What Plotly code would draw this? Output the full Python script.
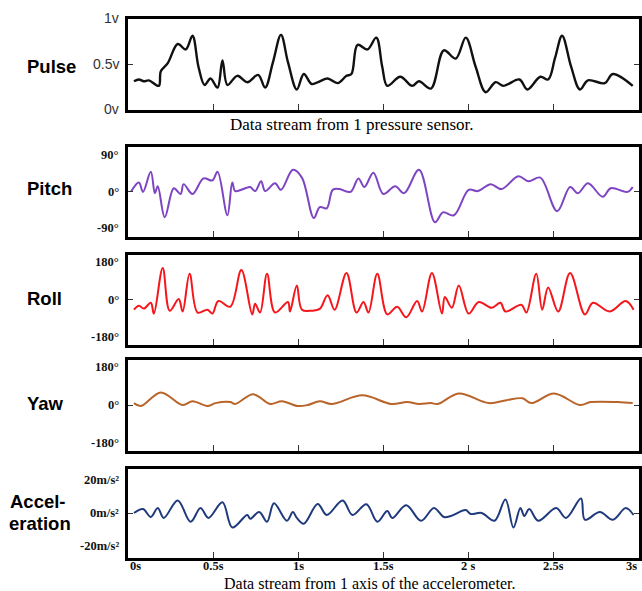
import plotly.graph_objects as go

# ---------------- data (time in s) ----------------
pulse_t = [0.035,0.064,0.093,0.123,0.181,0.193,0.234,0.292,0.339,0.379,0.414,0.450,0.485,0.526,0.555,
           0.584,0.642,0.701,0.765,0.806,0.852,0.899,0.940,0.992,1.033,1.080,1.127,1.173,1.232,1.284,1.313,
           1.349,1.407,1.459,1.494,1.524,1.600,1.670,1.710,1.780,1.856,1.926,1.985,2.043,2.102,2.160,
           2.207,2.300,2.347,2.423,2.469,2.510,2.551,2.604,2.656,2.703,2.802,2.849,2.966]
pulse_v = [0.31,0.33,0.31,0.32,0.26,0.42,0.51,0.72,0.66,0.81,0.47,0.27,0.34,0.24,0.54,
           0.27,0.37,0.30,0.38,0.24,0.52,0.82,0.52,0.22,0.39,0.28,0.31,0.34,0.29,0.37,0.39,
           0.71,0.66,0.79,0.47,0.26,0.36,0.26,0.31,0.23,0.65,0.56,0.79,0.47,0.19,0.30,
           0.26,0.33,0.22,0.36,0.33,0.57,0.81,0.47,0.22,0.32,0.29,0.39,0.26]

pitch_t = [0.018,0.064,0.088,0.134,0.158,0.175,0.216,0.269,0.309,0.327,0.379,0.444,0.496,0.526,0.584,
           0.613,0.630,0.689,0.718,0.747,0.782,0.806,0.864,0.899,0.969,1.022,1.092,1.127,1.168,1.203,
           1.243,1.308,1.354,1.389,1.442,1.500,1.570,1.623,1.710,1.804,1.851,1.915,2.002,2.055,2.131,
           2.195,2.294,2.353,2.423,2.522,2.598,2.644,2.703,2.790,2.837,2.936,2.966]
pitch_v = [0,22,-1,48,-4,13,-63,8,-6,18,-6,32,27,48,-58,
           22,1,8,11,1,25,1,20,4,53,34,-65,-38,-41,4,
           6,-1,32,11,46,-6,13,-4,53,-75,-51,-58,4,1,18,
           6,37,25,34,-48,11,-4,20,-13,8,-1,11]

roll_t = [0.035,0.064,0.093,0.134,0.152,0.204,0.245,0.298,0.321,0.362,0.409,0.467,0.496,0.531,0.601,
          0.666,0.730,0.747,0.776,0.817,0.864,0.940,0.952,0.992,1.022,1.080,1.127,1.173,1.214,1.284,
          1.343,1.384,1.413,1.465,1.524,1.582,1.635,1.699,1.728,1.786,1.845,1.862,1.903,1.944,2.002,
          2.061,2.137,2.189,2.218,2.312,2.341,2.399,2.434,2.469,2.528,2.598,2.685,2.732,2.831,2.925,2.971]
roll_v = [-49,-30,-44,-16,-68,152,-54,2,-58,124,-63,-49,-68,-7,-35,
          142,-72,-21,-63,124,-63,-12,-58,68,-49,-54,-45,21,-49,128,
          -63,-12,-63,124,-72,-35,-86,-7,-58,128,-68,12,-40,68,-68,
          -12,-40,-16,-58,-26,-63,124,-49,58,-58,128,-72,-16,-58,-7,-49]

yaw_t = [0.035,0.076,0.193,0.321,0.379,0.467,0.514,0.601,0.630,0.736,0.835,0.905,0.998,1.057,1.127,
         1.197,1.378,1.547,1.640,1.710,1.780,1.821,1.944,2.119,2.224,2.318,2.370,2.504,2.656,2.720,
         2.878,2.966]
yaw_v = [9,-5,60,0,18,-5,9,14,5,51,5,18,-5,0,18,
         5,46,5,14,5,9,5,55,9,23,32,9,55,0,14,
         14,9]

acc_t = [0.035,0.088,0.134,0.175,0.210,0.292,0.368,0.426,0.473,0.555,0.613,0.701,0.718,0.771,0.817,
         0.858,0.934,0.969,0.992,1.033,1.115,1.168,1.261,1.319,1.401,1.465,1.524,1.553,1.635,1.722,
         1.798,1.856,1.897,1.985,2.014,2.078,2.154,2.218,2.265,2.306,2.329,2.358,2.411,2.516,2.574,
         2.662,2.685,2.773,2.849,2.925,2.971]
acc_v = [0,2.4,-2.4,3,-3,7.6,-5.3,3,-3,6.5,-8.8,-1.2,-3.5,0.6,-5.3,
         5.9,-4.7,0.6,-3,-6.5,5.5,-1.2,7.6,-1.2,5.3,-5.3,1.2,-3,4.7,-4.7,
         3,-2.4,-1.8,1.8,-0.6,0,-4.7,8.2,-8.8,3,-1.8,2.4,-4.7,3,-3,
         8.8,-4.1,0.6,-4.1,3,-1.2]

x_tick_vals = [0, 0.5, 1, 1.5, 2, 2.5, 3]
x_tick_text = ["0s", "0.5s", "1s", "1.5s", "2 s", "2.5s", "3s"]

panel_names = ["Pulse", "Pitch", "Roll", "Yaw", "Accel-<br>eration"]
pulse_ticks = ([1, 0.5, 0], ["1v", "0.5v", "0v"])
pitch_ticks = ([90, 0, -90], ["90°", "0°", "-90°"])
roll_ticks = ([180, 0, -180], ["180°", "0°", "-180°"])
yaw_ticks = ([180, 0, -180], ["180°", "0°", "-180°"])
acc_ticks = ([20, 0, -20], ["20m/s²", "0m/s²", "-20m/s²"])

caption_top = "Data stream from 1 pressure sensor."
caption_bottom = "Data stream from 1 axis of the accelerometer."

# ---------------- layout helpers ----------------
W, H = 642, 591
def fx(p): return p / W
def fy(p): return 1 - p / H

panels = [
    dict(t=pulse_t, v=pulse_v, color="#111111", width=2.4, rng=[0, 1], mid=0.5, ticks=pulse_ticks,
         top=17, bot=111, label_y=66, sans=True),
    dict(t=pitch_t, v=pitch_v, color="#7d45c2", width=2.0, rng=[-110, 110], mid=0, ticks=pitch_ticks,
         top=145, bot=238, label_y=189, sans=False),
    dict(t=roll_t, v=roll_v, color="#f5161b", width=2.0, rng=[-217, 217], mid=0, ticks=roll_ticks,
         top=253, bot=346, label_y=298, sans=False),
    dict(t=yaw_t, v=yaw_v, color="#b8642a", width=2.0, rng=[-217, 217], mid=0, ticks=yaw_ticks,
         top=358, bot=452, label_y=403, sans=False),
    dict(t=acc_t, v=acc_v, color="#1f3a7c", width=2.0, rng=[-27, 27], mid=0, ticks=acc_ticks,
         top=467, bot=559, label_y=512, sans=False),
]

fig = go.Figure()
annotations = []
LEFT, RIGHT = 128, 638.5

for i, p in enumerate(panels, start=1):
    xa = "x" if i == 1 else f"x{i}"
    ya = "y" if i == 1 else f"y{i}"
    fig.add_trace(go.Scatter(x=p["t"], y=p["v"], mode="lines",
                             line=dict(color=p["color"], width=p["width"], shape="spline", smoothing=1.0),
                             xaxis=xa, yaxis=ya, hoverinfo="skip", showlegend=False))
    xkey = "xaxis" if i == 1 else f"xaxis{i}"
    ykey = "yaxis" if i == 1 else f"yaxis{i}"
    fig.layout[xkey] = dict(domain=[fx(LEFT), fx(RIGHT)], range=[0, 3], anchor=ya,
                            showgrid=False, zeroline=False, showline=True, linewidth=3,
                            linecolor="black", mirror=True, ticks="inside", ticklen=6,
                            tickwidth=1, tickcolor="#333", tickvals=x_tick_vals[1:-1],
                            showticklabels=False, fixedrange=True)
    fig.layout[ykey] = dict(domain=[fy(p["bot"] - 1.5), fy(p["top"] + 1.5)], range=p["rng"],
                            anchor=xa, showgrid=False, zeroline=False, showline=True,
                            linewidth=3, linecolor="black", mirror="ticks", ticks="inside",
                            ticklen=5, tickwidth=1, tickcolor="#333", tickvals=[p["mid"]],
                            showticklabels=False, fixedrange=True)
    vals, texts = p["ticks"]
    for val, txt in zip(vals, texts):
        if p["sans"]:
            font = dict(family="Liberation Sans, Arial", size=14, color="#333")
            text = txt
        else:
            font = dict(family="Liberation Serif, Times New Roman", size=12.5, color="#111")
            text = f"<b>{txt}</b>"
        annotations.append(dict(text=text, xref="paper", yref=ya, x=fx(121), y=val,
                                xanchor="right", yanchor="middle", showarrow=False, font=font))
    name_font = dict(family="Liberation Sans, Arial", size=18.5, color="black")
    if i < 5:
        annotations.append(dict(text=f"<b>{panel_names[i-1]}</b>", xref="paper", yref="paper",
                                x=fx(25), y=fy(p["label_y"]), xanchor="left", yanchor="middle",
                                showarrow=False, font=name_font))
    else:
        line1, line2 = panel_names[i-1].split("<br>")
        annotations.append(dict(text=f"<b>{line1}</b>", xref="paper", yref="paper",
                                x=fx(8), y=fy(501), xanchor="left", yanchor="middle",
                                showarrow=False, font=name_font))
        annotations.append(dict(text=f"<b>{line2}</b>", xref="paper", yref="paper",
                                x=fx(7), y=fy(523), xanchor="left", yanchor="middle",
                                showarrow=False, font=name_font))

# x tick labels under bottom panel
tick_font = dict(family="Liberation Serif, Times New Roman", size=12.5, color="#111")
for k, (val, txt) in enumerate(zip(x_tick_vals, x_tick_text)):
    anchor = "left" if k == 0 else ("right" if k == len(x_tick_vals) - 1 else "center")
    annotations.append(dict(text=f"<b>{txt}</b>", xref="x5", yref="paper", x=val, y=fy(565.5),
                            xanchor=anchor, yanchor="middle", showarrow=False, font=tick_font,
                            height=13))

cap_font = dict(family="Liberation Serif, Times New Roman", size=17, color="black")
annotations.append(dict(text=caption_top, xref="paper", yref="paper", x=fx(352), y=fy(124),
                        xanchor="center", yanchor="middle", showarrow=False, font=cap_font))
annotations.append(dict(text=caption_bottom, xref="paper", yref="paper", x=fx(370), y=fy(583),
                        xanchor="center", yanchor="middle", showarrow=False, height=16,
                        font=dict(family="Liberation Serif, Times New Roman", size=16, color="black")))

fig.update_layout(width=W, height=H, margin=dict(l=0, r=0, t=0, b=0),
                  paper_bgcolor="white", plot_bgcolor="white", annotations=annotations,
                  showlegend=False)

fig.write_html("out.html", config={"displayModeBar": False},
               post_script="document.body.style.margin='0';document.body.style.overflow='hidden';")
